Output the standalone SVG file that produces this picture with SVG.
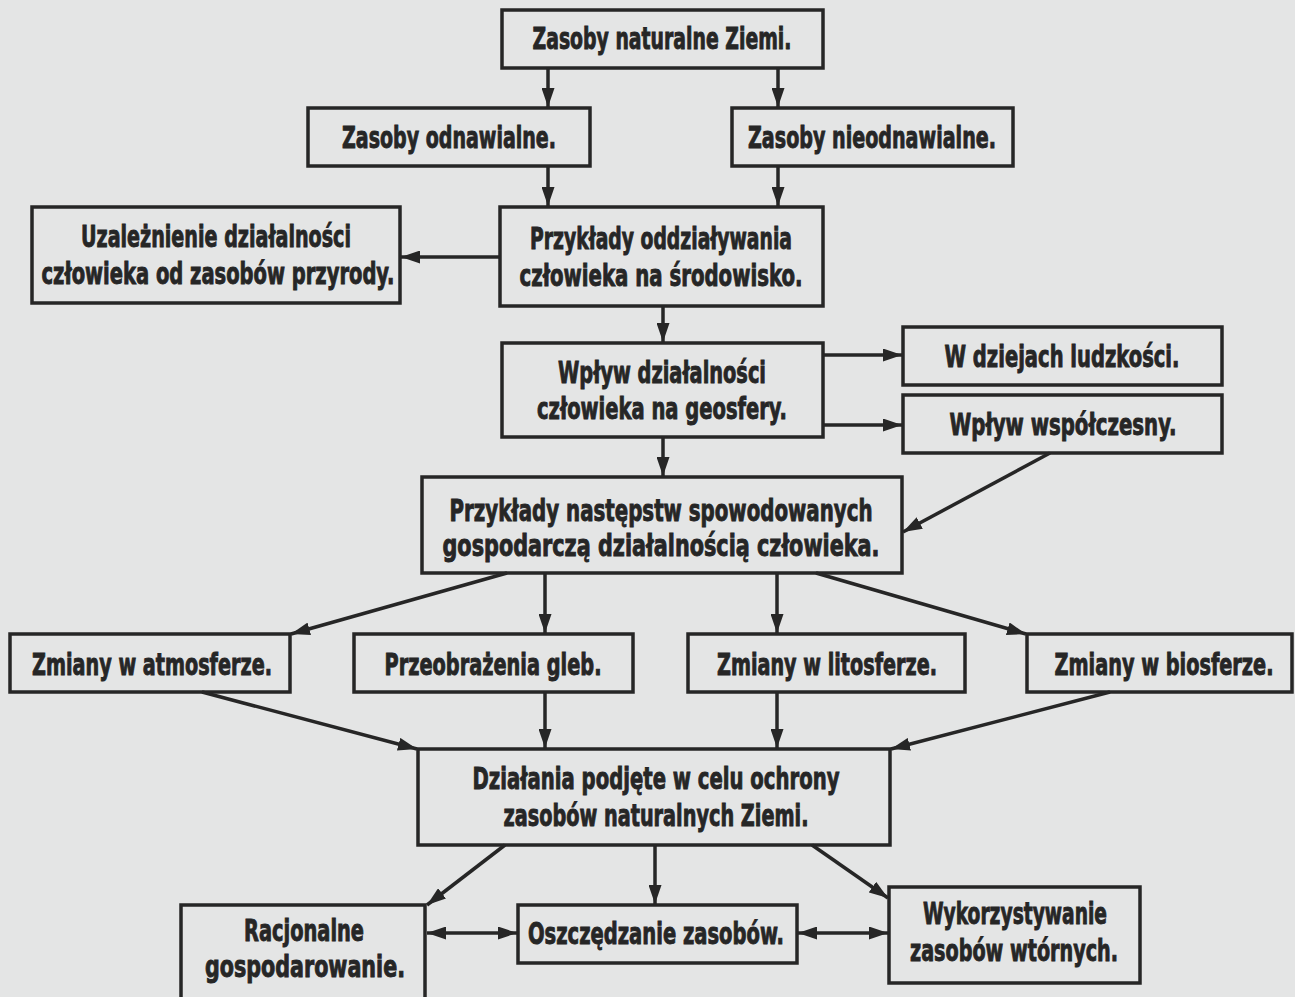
<svg xmlns="http://www.w3.org/2000/svg" width="1295" height="997" viewBox="0 0 1295 997">
<defs>
<style>
.bx{fill:none;stroke:#262626;stroke-width:3.5}
.t{font-family:"Liberation Sans Narrow","DejaVu Sans Condensed","Liberation Sans",sans-serif;font-weight:bold;font-size:30px;fill:#262626;stroke:#262626;stroke-width:0.9;text-anchor:middle}
.c{stroke:#262626;stroke-width:3.5;fill:none}
</style>
<marker id="ah" viewBox="0 0 19 13" refX="19" refY="6.5" markerWidth="19" markerHeight="13" markerUnits="userSpaceOnUse" orient="auto-start-reverse">
<path d="M0,0 L19,6.5 L0,13 Z" fill="#262626"/>
</marker>
</defs>
<rect x="0" y="0" width="1295" height="997" fill="#e4e5e5"/>

<g id="n1"><rect class="bx" x="502" y="10" width="321" height="58"/><text class="t" x="662" y="49" textLength="259" lengthAdjust="spacingAndGlyphs">Zasoby naturalne Ziemi.</text></g>
<g id="n2"><rect class="bx" x="308" y="108" width="282" height="58"/><text class="t" x="449" y="148" textLength="214" lengthAdjust="spacingAndGlyphs">Zasoby odnawialne.</text></g>
<g id="n3"><rect class="bx" x="732" y="108" width="281" height="58"/><text class="t" x="872" y="148" textLength="248" lengthAdjust="spacingAndGlyphs">Zasoby nieodnawialne.</text></g>
<g id="n4"><rect class="bx" x="32" y="207" width="368" height="96"/><text class="t" x="216" y="247" textLength="270" lengthAdjust="spacingAndGlyphs">Uzależnienie działalności</text><text class="t" x="218" y="284" textLength="353" lengthAdjust="spacingAndGlyphs">człowieka od zasobów przyrody.</text></g>
<g id="n5"><rect class="bx" x="500" y="207" width="323" height="99"/><text class="t" x="661" y="249" textLength="262" lengthAdjust="spacingAndGlyphs">Przykłady oddziaływania</text><text class="t" x="661" y="286" textLength="283" lengthAdjust="spacingAndGlyphs">człowieka na środowisko.</text></g>
<g id="n6"><rect class="bx" x="502" y="343" width="321" height="94"/><text class="t" x="662" y="383" textLength="208" lengthAdjust="spacingAndGlyphs">Wpływ działalności</text><text class="t" x="662" y="419" textLength="250" lengthAdjust="spacingAndGlyphs">człowieka na geosfery.</text></g>
<g id="n7"><rect class="bx" x="903" y="327" width="319" height="58"/><text class="t" x="1062" y="367" textLength="235" lengthAdjust="spacingAndGlyphs">W dziejach ludzkości.</text></g>
<g id="n8"><rect class="bx" x="903" y="395" width="319" height="58"/><text class="t" x="1063" y="435" textLength="227" lengthAdjust="spacingAndGlyphs">Wpływ współczesny.</text></g>
<g id="n9"><rect class="bx" x="422" y="477" width="480" height="96"/><text class="t" x="661" y="521" textLength="423" lengthAdjust="spacingAndGlyphs">Przykłady następstw spowodowanych</text><text class="t" x="661" y="556" textLength="437" lengthAdjust="spacingAndGlyphs">gospodarczą działalnością człowieka.</text></g>
<g id="n10"><rect class="bx" x="10" y="634" width="280" height="58"/><text class="t" x="152" y="675" textLength="240" lengthAdjust="spacingAndGlyphs">Zmiany w atmosferze.</text></g>
<g id="n11"><rect class="bx" x="354" y="634" width="279" height="58"/><text class="t" x="493" y="675" textLength="217" lengthAdjust="spacingAndGlyphs">Przeobrażenia gleb.</text></g>
<g id="n12"><rect class="bx" x="688" y="634" width="277" height="58"/><text class="t" x="827" y="675" textLength="220" lengthAdjust="spacingAndGlyphs">Zmiany w litosferze.</text></g>
<g id="n13"><rect class="bx" x="1027" y="634" width="265" height="58"/><text class="t" x="1164" y="675" textLength="219" lengthAdjust="spacingAndGlyphs">Zmiany w biosferze.</text></g>
<g id="n14"><rect class="bx" x="418" y="749" width="472" height="96"/><text class="t" x="656" y="789" textLength="367" lengthAdjust="spacingAndGlyphs">Działania podjęte w celu ochrony</text><text class="t" x="656" y="826" textLength="305" lengthAdjust="spacingAndGlyphs">zasobów naturalnych Ziemi.</text></g>
<g id="n15"><rect class="bx" x="181" y="905" width="244" height="100"/><text class="t" x="304" y="941" textLength="120" lengthAdjust="spacingAndGlyphs">Racjonalne</text><text class="t" x="305" y="977" textLength="200" lengthAdjust="spacingAndGlyphs">gospodarowanie.</text></g>
<g id="n16"><rect class="bx" x="518" y="905" width="279" height="58"/><text class="t" x="656" y="944" textLength="256" lengthAdjust="spacingAndGlyphs">Oszczędzanie zasobów.</text></g>
<g id="n17"><rect class="bx" x="889" y="887" width="251" height="96"/><text class="t" x="1015" y="924" textLength="184" lengthAdjust="spacingAndGlyphs">Wykorzystywanie</text><text class="t" x="1014" y="961" textLength="208" lengthAdjust="spacingAndGlyphs">zasobów wtórnych.</text></g>

<g id="connectors" class="c" marker-end="url(#ah)">
<line x1="548" y1="68" x2="548" y2="107"/>
<line x1="778" y1="68" x2="778" y2="107"/>
<line x1="548" y1="166" x2="548" y2="206"/>
<line x1="778" y1="166" x2="778" y2="206"/>
<line x1="500" y1="257" x2="401" y2="257"/>
<line x1="663" y1="306" x2="663" y2="342"/>
<line x1="823" y1="355" x2="902" y2="355"/>
<line x1="823" y1="425" x2="902" y2="425"/>
<line x1="1050" y1="453" x2="903" y2="532"/>
<line x1="663" y1="437" x2="663" y2="476"/>
<line x1="507" y1="573" x2="291" y2="634"/>
<line x1="545" y1="573" x2="545" y2="633"/>
<line x1="777" y1="573" x2="777" y2="633"/>
<line x1="816" y1="573" x2="1026" y2="634"/>
<line x1="202" y1="692" x2="417" y2="749"/>
<line x1="545" y1="692" x2="545" y2="748"/>
<line x1="777" y1="692" x2="777" y2="748"/>
<line x1="1110" y1="692" x2="891" y2="749"/>
<line x1="505" y1="845" x2="427" y2="905"/>
<line x1="655" y1="845" x2="655" y2="904"/>
<line x1="812" y1="845" x2="888" y2="898"/>
<line x1="427" y1="933" x2="517" y2="933" marker-start="url(#ah)"/>
<line x1="798" y1="933" x2="888" y2="933" marker-start="url(#ah)"/>
</g>
</svg>
